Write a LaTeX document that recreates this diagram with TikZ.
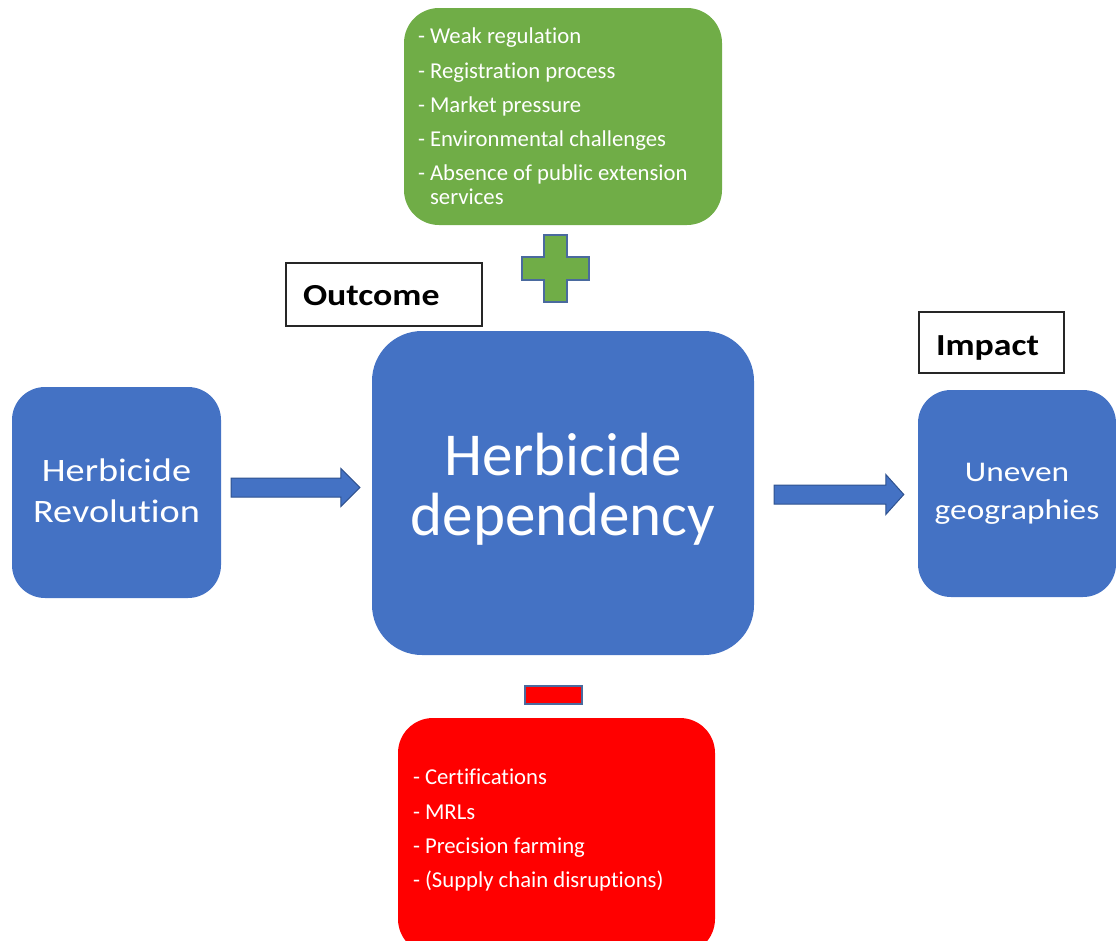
\documentclass[tikz,border=0pt]{standalone}
\usepackage{fontspec}
\setmainfont{Carlito}[Renderer=OpenType, Ligatures=NoCommon, RawFeature={-liga;-clig;-calt;-dlig}]
\newfontfamily\widefont{Carlito}[Renderer=OpenType, FakeStretch=1.17, Ligatures=NoCommon, RawFeature={-liga;-clig;-calt;-dlig}]
\usetikzlibrary{calc}
\definecolor{boxblue}{HTML}{4472C4}
\definecolor{boxgreen}{HTML}{70AD47}
\definecolor{boxred}{HTML}{FF0000}
\definecolor{edgeblue}{HTML}{2F528F}
\definecolor{signedge}{HTML}{4A6A9E}
\begin{document}
\begin{tikzpicture}[x=1pt,y=-1pt,
  bluebox/.style={rectangle, rounded corners=33pt, fill=boxblue, text=white, inner sep=0pt, align=center},
  listbox/.style={rectangle, rounded corners=35pt, text=white, inner ysep=0pt, align=left, font=\fontsize{22.7}{24}\selectfont},
  labelbox/.style={rectangle, draw=black!85, line width=1.5pt, fill=white, align=left, inner ysep=0pt, font=\widefont\bfseries\fontsize{30.6}{34}\selectfont},
  fatarrow/.style={fill=boxblue, draw=edgeblue, line width=1pt, line join=miter},
  signshape/.style={draw=signedge, line width=1.3pt}]
\useasboundingbox (0,0) rectangle (1116,940);

% main boxes
\node[bluebox, minimum width=209pt, minimum height=211pt,
      font=\widefont\fontsize{32.7}{41}\selectfont] (rev) at (116.5,492.5) {Herbicide\\Revolution\rule[-4pt]{0pt}{0pt}};
\node[bluebox, rounded corners=50pt, minimum width=382pt, minimum height=324pt,
      font=\fontsize{61}{60}\selectfont] (dep) at (563,493) {Herbicide\\dependency\rule[-17.5pt]{0pt}{0pt}};
\node[bluebox, minimum width=198pt, minimum height=207pt,
      font=\widefont\fontsize{28.5}{38}\selectfont] (geo) at (1017,493.5) {Uneven\\geographies};

% factor boxes
\node[listbox, fill=boxgreen, minimum width=318pt, minimum height=217pt, text width=290pt, inner xsep=14pt] (plusbox) at (563,116.5)
  {\spaceskip=0pt\xspaceskip=0pt\relax
   - Weak regulation\\[10.3pt]
   - Registration process\\[10.3pt]
   - Market pressure\\[10.3pt]
   - Environmental challenges\\[10.3pt]
   - Absence of public extension\\
   \hphantom{- }services};
\node[listbox, fill=boxred, minimum width=317pt, minimum height=236pt, text width=287pt, inner xsep=15pt,
      font=\fontsize{22.7}{34.3}\selectfont] (minusbox) at (556.5,836)
  {\spaceskip=0pt\xspaceskip=0pt\relax
   - Certifications\\
   - MRLs\\
   - Precision farming\\
   - (Supply chain disruptions)\rule[-15pt]{0pt}{0pt}};

% labels
\node[labelbox, minimum width=196pt, minimum height=63pt, text width=162pt, inner xsep=17pt,
      text height=24pt, text depth=1.6pt] (outcome) at (384,294.5) {Outcome};
\node[labelbox, minimum width=145pt, minimum height=61pt, text width=111pt, inner xsep=17pt,
      text height=28pt, text depth=3pt] (impact) at (991.5,342.5) {Impact};

% plus and minus signs
\coordinate (plusc) at (555.5,268.5);
\draw[signshape, fill=boxgreen, shift={(plusc)}]
  (-11.5,-33.5) -- (11.5,-33.5) -- (11.5,-11.5) -- (33.5,-11.5) -- (33.5,11.5) -- (11.5,11.5)
  -- (11.5,33.5) -- (-11.5,33.5) -- (-11.5,11.5) -- (-33.5,11.5) -- (-33.5,-11.5) -- (-11.5,-11.5) -- cycle;
\node[signshape, rectangle, fill=boxred, minimum width=57pt, minimum height=18pt, inner sep=0pt] (minus) at (553.5,695) {};

% arrows
\coordinate (a1s) at ($(rev.east)+(10,-5)$);
\coordinate (a1e) at ($(dep.west)+(-12,-5.5)$);
\draw[fatarrow] ($(a1s)+(0,-9.5)$) -- ($(a1e)+(-19,-9.5)$) -- ($(a1e)+(-19,-19)$) -- (a1e)
  -- ($(a1e)+(-19,19)$) -- ($(a1e)+(-19,9.5)$) -- ($(a1s)+(0,9.5)$) -- cycle;
\coordinate (a2s) at ($(dep.east)+(20,1.5)$);
\coordinate (a2e) at ($(geo.west)+(-14,1)$);
\draw[fatarrow] ($(a2s)+(0,-9.5)$) -- ($(a2e)+(-18,-9.5)$) -- ($(a2e)+(-18,-20)$) -- (a2e)
  -- ($(a2e)+(-18,20)$) -- ($(a2e)+(-18,9.5)$) -- ($(a2s)+(0,9.5)$) -- cycle;
\end{tikzpicture}
\end{document}
